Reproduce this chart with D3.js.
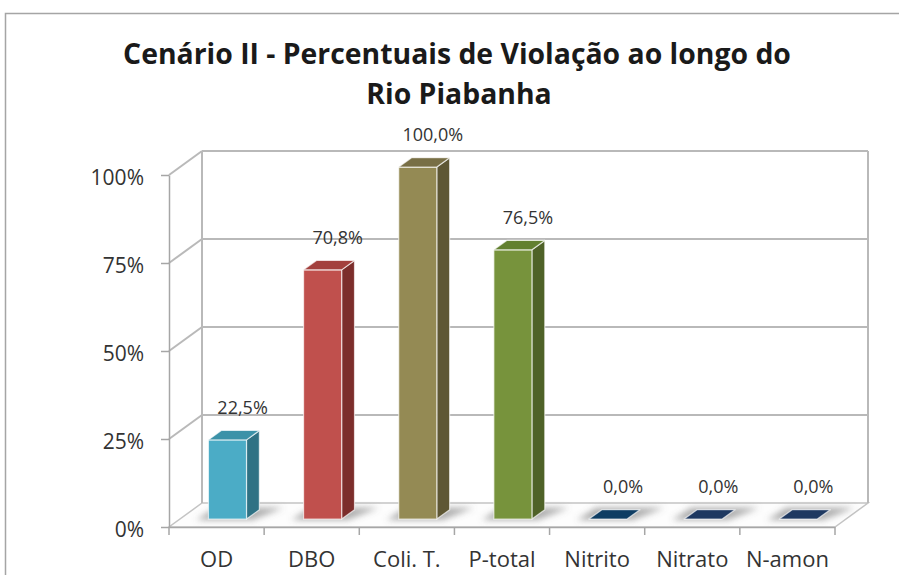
<!DOCTYPE html>
<html>
<head>
<meta charset="utf-8">
<script src="https://cdn.jsdelivr.net/npm/d3@7"></script>
<style>
  html, body { margin: 0; padding: 0; background: #fff; }
  svg { display: block; }
  text { font-family: "Open Sans", "Noto Sans", sans-serif; }
</style>
</head>
<body>
<svg id="chart" width="899" height="575"></svg>
<script>
// Percentual de violação por parâmetro
const categories = ["OD", "DBO", "Coli. T.", "P-total", "Nitrito", "Nitrato", "N-amon"];
const violation = [0.225, 0.708, 1.0, 0.765, 0.0, 0.0, 0.0];
const yTicks = [0, 0.25, 0.5, 0.75, 1];
const titleLines = ["Cenário II - Percentuais de Violação ao longo do", "Rio Piabanha"];

// Cores das faces (frente, lateral, topo)
const frontColors = ["#4bacc6", "#c0504d", "#948a54", "#77933c", "#0e3d63", "#1f3961", "#1f3961"];
const sideColors  = ["#2f7284", "#7c2d2b", "#5e5734", "#4f6228", "#0a2c48", "#162a48", "#162a48"];
const topColors   = ["#3c92a8", "#a3403d", "#786f45", "#62802f", "#0e3d63", "#1f3961", "#1f3961"];

const svg = d3.select("#chart");

// Moldura do gráfico
svg.append("path")
  .attr("d", "M5.5,575 V13.5 H899")
  .attr("fill", "none").attr("stroke", "#a5a5a5").attr("stroke-width", 1.5);

// Plano frontal e profundidade oblíqua
const x = d3.scaleBand().domain(categories).range([169, 835]).paddingInner(0).paddingOuter(0);
const y = d3.scaleLinear().domain([0, 1]).range([527, 175]);
const DX = 33, DY = -24;
const off = f => [f * DX, f * DY];

const defs = svg.append("defs");
defs.append("filter").attr("id", "soft").attr("x", "-50%").attr("y", "-50%").attr("width", "200%").attr("height", "200%")
  .append("feGaussianBlur").attr("stdDeviation", 3.2);

const gridColor = "#b9b9b9";
const left = x.range()[0], right = x.range()[1];
const y0 = y(0);

// Piso
svg.append("polygon")
  .attr("points", [[left, y0], [right, y0], [right + DX, y0 + DY], [left + DX, y0 + DY]].map(p => p.join(",")).join(" "))
  .attr("fill", "#fdfdfd").attr("stroke", "#c4c4c4").attr("stroke-width", 1.5);

// Grades: parede lateral (diagonais) e parede de fundo
const grid = svg.append("g").attr("fill", "none").attr("stroke", gridColor).attr("stroke-width", 2);
grid.selectAll("line.side").data(yTicks.filter(t => t > 0)).join("line")
  .attr("x1", left).attr("y1", d => y(d))
  .attr("x2", left + DX).attr("y2", d => y(d) + DY);
grid.selectAll("line.back").data(yTicks.filter(t => t > 0)).join("line")
  .attr("x1", left + DX).attr("y1", d => y(d) + DY)
  .attr("x2", right + DX).attr("y2", d => y(d) + DY);
grid.append("line")
  .attr("x1", left + DX).attr("y1", y(1) + DY).attr("x2", left + DX).attr("y2", y0 + DY);
grid.append("line")
  .attr("x1", right + DX).attr("y1", y(1) + DY).attr("x2", right + DX).attr("y2", y0 + DY);

// Barras 3D
const f0 = 0.33, f1 = 0.72;
const bw = x.bandwidth() * 0.4;
const [ox, oy] = off(f0);
const ddx = (f1 - f0) * DX, ddy = (f1 - f0) * DY;
const rows = categories.map((c, i) => ({ c, v: violation[i], i }));

const pts = a => a.map(p => p.join(",")).join(" ");

// Sombras no piso
svg.append("g").attr("filter", "url(#soft)")
  .selectAll("polygon").data(rows).join("polygon")
  .attr("points", d => {
    const xl = x(d.c) + (x.bandwidth() - bw) / 2 + ox;
    const yb = y0 + oy;
    return pts([[xl - 12, yb + 1], [xl + bw + 6, yb + 1], [xl + bw + ddx + 24, yb + ddy - 2], [xl + ddx - 6, yb + ddy - 2]]);
  })
  .attr("fill", "#6e6e6e").attr("opacity", 0.55);

const bars = svg.append("g").selectAll("g").data(rows).join("g");
bars.each(function(d) {
  const g = d3.select(this);
  const xl = x(d.c) + (x.bandwidth() - bw) / 2 + ox;
  const xr = xl + bw;
  const yb = y0 + oy;
  const yt = y(d.v) + oy;
  const edge = "rgba(255,255,255,0.65)";
  if (yb - yt > 0.5) {
    g.append("polygon")
      .attr("points", pts([[xr, yt], [xr + ddx, yt + ddy], [xr + ddx, yb + ddy], [xr, yb]]))
      .attr("fill", sideColors[d.i]).attr("stroke", edge).attr("stroke-width", 1.2).attr("stroke-linejoin", "round");
    g.append("rect")
      .attr("x", xl).attr("y", yt).attr("width", bw).attr("height", yb - yt)
      .attr("fill", frontColors[d.i]).attr("stroke", edge).attr("stroke-width", 1.2);
  }
  g.append("polygon")
    .attr("points", pts([[xl, yt], [xr, yt], [xr + ddx, yt + ddy], [xl + ddx, yt + ddy]]))
    .attr("fill", topColors[d.i]).attr("stroke", edge).attr("stroke-width", 1.2).attr("stroke-linejoin", "round");
});

// Rótulos de dados (vírgula decimal)
const ptBR = d3.formatLocale({ decimal: ",", thousands: ".", grouping: [3], currency: ["R$", ""] });
const pct1 = ptBR.format(".1%");
svg.append("g").selectAll("text").data(rows).join("text")
  .attr("x", d => x(d.c) + x.bandwidth() / 2 + 26)
  .attr("y", d => y(d.v) - 34)
  .attr("text-anchor", "middle")
  .attr("font-size", 18)
  .attr("fill", "#333")
  .text(d => pct1(d.v));

// Eixo vertical
const yAxis = svg.append("g")
  .attr("transform", `translate(${left},0)`)
  .call(d3.axisLeft(y).tickValues(yTicks).tickFormat(d3.format(".0%")).tickSize(8).tickSizeOuter(0).tickPadding(17));
yAxis.select(".domain").attr("stroke", "#a6a6a6").attr("stroke-width", 1.5);
yAxis.selectAll(".tick line").attr("stroke", "#a6a6a6").attr("stroke-width", 1.5);
yAxis.selectAll(".tick text")
  .attr("font-size", 21).attr("fill", "#333").attr("dy", "0.45em")
  .style("font-family", "'Open Sans', sans-serif");

// Eixo horizontal: linha, marcas nos limites das categorias e rótulos
const xAxisG = svg.append("g").attr("transform", `translate(0,${y0})`);
xAxisG.append("line").attr("x1", left).attr("x2", right).attr("y1", 0.5).attr("y2", 0.5)
  .attr("stroke", "#a6a6a6").attr("stroke-width", 1.5);
const bounds = categories.map(c => x(c)).concat([right]);
xAxisG.selectAll("line.tk").data(bounds).join("line")
  .attr("x1", d => d).attr("x2", d => d).attr("y1", 0).attr("y2", 8)
  .attr("stroke", "#a6a6a6").attr("stroke-width", 1.5);
const xAxis = svg.append("g")
  .attr("transform", `translate(0,${y0})`)
  .call(d3.axisBottom(x).tickSize(0).tickPadding(24));
xAxis.select(".domain").remove();
xAxis.selectAll(".tick text")
  .attr("font-size", 22).attr("fill", "#333")
  .style("font-family", "'Open Sans', sans-serif");

// Título
const title = svg.append("g").attr("text-anchor", "middle").attr("font-weight", "bold").attr("fill", "#1a1a1a");
const t1 = title.append("text").attr("x", 457).attr("y", 64).attr("font-size", 30).text(titleLines[0]);
const t2 = title.append("text").attr("x", 459).attr("y", 104).attr("font-size", 30).text(titleLines[1]);
const w = t1.node().getComputedTextLength();
const fs = 30 * 668 / w;
t1.attr("font-size", fs);
t2.attr("font-size", fs);
</script>
</body>
</html>
